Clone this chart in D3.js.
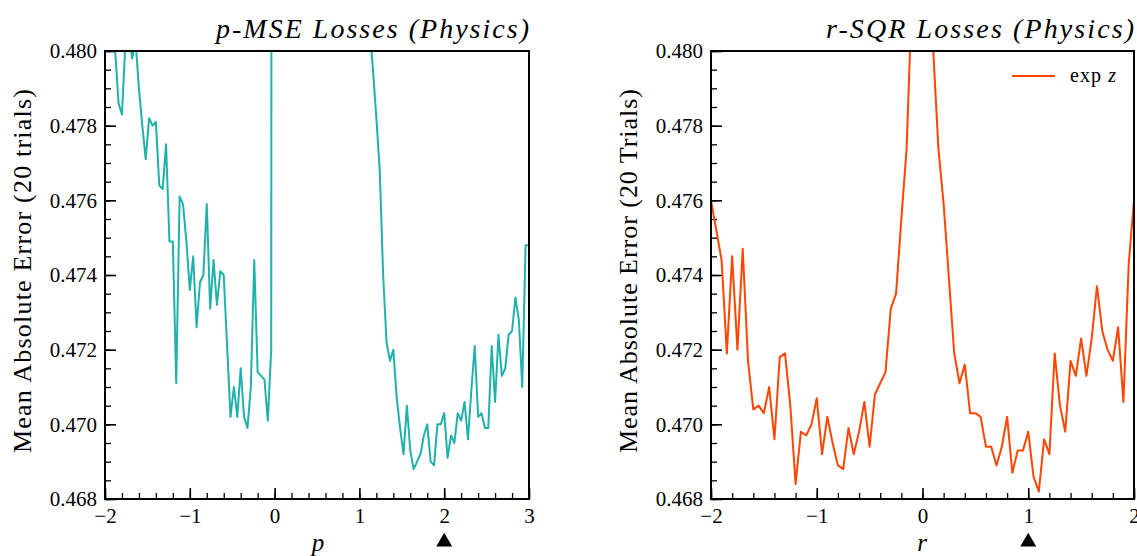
<!DOCTYPE html>
<html>
<head>
<meta charset="utf-8">
<script src="https://cdn.jsdelivr.net/npm/d3@7"></script>
<style>
  body { margin: 0; background: #fff; }
  svg text { font-family: "Liberation Serif", "Times New Roman", serif; fill: #000; }
</style>
</head>
<body>
<svg id="chart" width="1137" height="556"></svg>
<script>
// p grid (step 0.04) and r grid (step 0.05)
var pGrid = d3.range(126).map(function(i){ return -2 + 0.04*i; });
var rGrid = d3.range(81).map(function(i){ return -2 + 0.05*i; });

// p-MSE losses, mean absolute error over 20 trials
var pmseValues = [
  0.4815, 0.4808, 0.4812, 0.4800, 0.4786, 0.4783, 0.4802, 0.4805, 0.4798, 0.4803,
  0.4790, 0.4780, 0.4771, 0.4782, 0.4780, 0.4781, 0.4764, 0.4763, 0.4775, 0.4749,
  0.4749, 0.4711, 0.4761, 0.4759, 0.4749, 0.4736, 0.4745, 0.4726, 0.4738, 0.4740,
  0.4759, 0.4731, 0.4744, 0.4732, 0.4741, 0.4740, 0.4721, 0.4702, 0.4710, 0.4702,
  0.4715, 0.4702, 0.4699, 0.4710, 0.4744, 0.4714, 0.4713, 0.4712, 0.4701, 0.4720,
  0.6200, 0.5600, 0.5450, 0.5350, 0.5260, 0.5190, 0.5130, 0.5080, 0.5040, 0.5005,
  0.4975, 0.4950, 0.4928, 0.4910, 0.4895, 0.4882, 0.4870, 0.4860, 0.4851, 0.4843,
  0.4836, 0.4830, 0.4825, 0.4820, 0.4815, 0.4811, 0.4807, 0.4815, 0.4806, 0.4795,
  0.4782, 0.4768, 0.4740, 0.4722, 0.4717, 0.4720, 0.4707, 0.4699, 0.4692, 0.4705,
  0.4693, 0.4688, 0.4690, 0.4692, 0.4697, 0.4700, 0.4690, 0.4689, 0.4700, 0.4700,
  0.4703, 0.4691, 0.4697, 0.4695, 0.4703, 0.4701, 0.4706, 0.4696, 0.4709, 0.4721,
  0.4702, 0.4703, 0.4699, 0.4699, 0.4721, 0.4706, 0.4724, 0.4713, 0.4715, 0.4724,
  0.4725, 0.4734, 0.4728, 0.4710, 0.4748, 0.4748
];

// r-SQR losses, exp z
var rsqrValues = [
  0.4760, 0.4752, 0.4744, 0.4719, 0.4745, 0.4720, 0.4747, 0.4717, 0.4704, 0.4705,
  0.4703, 0.4710, 0.4696, 0.4718, 0.4719, 0.4705, 0.4684, 0.4698, 0.4697, 0.4700,
  0.4707, 0.4692, 0.4702, 0.4695, 0.4689, 0.4688, 0.4699, 0.4692, 0.4698, 0.4706,
  0.4694, 0.4708, 0.4711, 0.4714, 0.4731, 0.4735, 0.4755, 0.4774, 0.4815, 0.4850,
  0.4870, 0.4840, 0.4801, 0.4774, 0.4759, 0.4739, 0.4719, 0.4711, 0.4716, 0.4703,
  0.4703, 0.4702, 0.4694, 0.4694, 0.4689, 0.4694, 0.4702, 0.4687, 0.4693, 0.4693,
  0.4698, 0.4686, 0.4682, 0.4696, 0.4692, 0.4719, 0.4705, 0.4698, 0.4717, 0.4713,
  0.4723, 0.4713, 0.4723, 0.4737, 0.4725, 0.4720, 0.4717, 0.4726, 0.4706, 0.4743,
  0.4760
];

var yTicks = [0.468, 0.470, 0.472, 0.474, 0.476, 0.478, 0.480];
var pTicks = [-2, -1, 0, 1, 2, 3];
var rTicks = [-2, -1, 0, 1, 2];

var svg = d3.select("#chart");

function drawPanel(o){
  var x = d3.scaleLinear().domain(o.xDomain).range([o.left, o.right]);
  var y = d3.scaleLinear().domain([0.468, 0.480]).range([o.bottom, o.top]);
  var g = svg.append("g");

  g.append("clipPath").attr("id", o.id + "-clip")
    .append("rect")
      .attr("x", o.left).attr("y", o.top)
      .attr("width", o.right - o.left).attr("height", o.bottom - o.top);

  // minor ticks
  var xMinor = d3.range(o.xDomain[0], o.xDomain[1] + 0.001, 0.2);
  var yMinor = d3.range(0.468, 0.48001, 0.0005);
  g.append("g").attr("transform", "translate(0," + o.bottom + ")")
    .call(d3.axisBottom(x).tickValues(xMinor).tickSize(-6).tickFormat(""))
    .call(function(a){ a.select(".domain").remove(); a.selectAll("line").attr("stroke-width", 1.3); });
  g.append("g").attr("transform", "translate(" + o.left + ",0)")
    .call(d3.axisLeft(y).tickValues(yMinor).tickSize(-6).tickFormat(""))
    .call(function(a){ a.select(".domain").remove(); a.selectAll("line").attr("stroke-width", 1.3); });

  // major ticks
  g.append("g").attr("transform", "translate(0," + o.bottom + ")")
    .call(d3.axisBottom(x).tickValues(o.xTicks).tickSize(-11).tickPadding(9).tickFormat(d3.format("d")))
    .call(function(a){
      a.attr("font-size", 21);
      a.select(".domain").remove();
      a.selectAll("line").attr("stroke-width", 1.6);
    });
  g.append("g").attr("transform", "translate(" + o.left + ",0)")
    .call(d3.axisLeft(y).tickValues(yTicks).tickSize(-11).tickPadding(8).tickFormat(d3.format(".3f")))
    .call(function(a){
      a.attr("font-size", 21);
      a.select(".domain").remove();
      a.selectAll("line").attr("stroke-width", 1.6);
    });

  // curve
  var line = d3.line().x(function(d){ return x(d[0]); }).y(function(d){ return y(d[1]); });
  g.append("path")
    .datum(d3.zip(o.grid, o.values))
    .attr("clip-path", "url(#" + o.id + "-clip)")
    .attr("fill", "none")
    .attr("stroke", o.color)
    .attr("stroke-width", 2)
    .attr("stroke-linejoin", "round")
    .attr("d", line);

  // frame
  g.append("rect")
    .attr("x", o.left).attr("y", o.top)
    .attr("width", o.right - o.left).attr("height", o.bottom - o.top)
    .attr("fill", "none").attr("stroke", "#000").attr("stroke-width", 2);

  // title
  g.append("text")
    .attr("x", o.right).attr("y", 38)
    .attr("text-anchor", "end")
    .style("font-size", "28px").style("font-style", "italic")
    .attr("textLength", o.titleLen).attr("lengthAdjust", "spacing")
    .text(o.title);

  // y label
  g.append("text")
    .attr("transform", "translate(" + o.ylabelX + "," + ((o.top + o.bottom) / 2 - 4) + ") rotate(-90)")
    .attr("text-anchor", "middle")
    .style("font-size", "26px")
    .attr("textLength", 364).attr("lengthAdjust", "spacing")
    .text(o.ylabel);

  // x label
  g.append("text")
    .attr("x", o.xlabelX).attr("y", 551)
    .attr("text-anchor", "middle")
    .style("font-size", "25px").style("font-style", "italic")
    .text(o.xlabel);

  // best value marker
  var mx = x(o.marker);
  g.append("path")
    .attr("d", d3.symbol().type(d3.symbolTriangle).size(110))
    .attr("transform", "translate(" + mx + ",542)")
    .attr("fill", "#000");
}

drawPanel({
  id: "pmse", left: 105, right: 529, top: 51, bottom: 499,
  xDomain: [-2, 3], xTicks: pTicks, grid: pGrid, values: pmseValues,
  color: "#20b2aa", title: "p-MSE Losses (Physics)", titleLen: 313,
  ylabel: "Mean Absolute Error (20 trials)", ylabelX: 31,
  xlabel: "p", xlabelX: 318, marker: 2
});

drawPanel({
  id: "rsqr", left: 711, right: 1134, top: 51, bottom: 499,
  xDomain: [-2, 2], xTicks: rTicks, grid: rGrid, values: rsqrValues,
  color: "#ff4500", title: "r-SQR Losses (Physics)", titleLen: 308,
  ylabel: "Mean Absolute Error (20 Trials)", ylabelX: 637,
  xlabel: "r", xlabelX: 922, marker: 1
});

// legend
var leg = svg.append("g");
leg.append("line")
  .attr("x1", 1012).attr("x2", 1055).attr("y1", 76).attr("y2", 76)
  .attr("stroke", "#ff4500").attr("stroke-width", 2);
var lt = leg.append("text").attr("x", 1070).attr("y", 82)
  .style("font-size", "20px")
  .attr("textLength", 46).attr("lengthAdjust", "spacing");
lt.append("tspan").text("exp ");
lt.append("tspan").style("font-style", "italic").text("z");
</script>
</body>
</html>
